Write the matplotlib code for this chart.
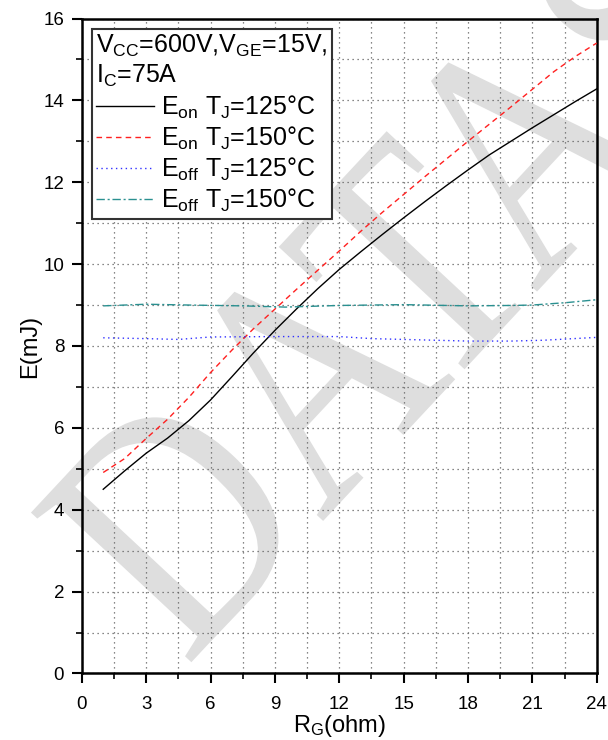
import matplotlib
matplotlib.use("Agg")
import matplotlib.pyplot as plt
from matplotlib.ticker import MultipleLocator
from matplotlib.textpath import TextPath
from matplotlib.patches import PathPatch
from matplotlib.font_manager import FontProperties
from matplotlib.transforms import Affine2D, IdentityTransform

plt.rcParams['font.family'] = ['Liberation Sans', 'DejaVu Sans']
plt.rcParams['mathtext.fontset'] = 'custom'
plt.rcParams['mathtext.rm'] = 'Liberation Sans'
plt.rcParams['mathtext.it'] = 'Liberation Sans'

# ---- data ----
rg = [1, 2, 3, 4, 5, 6, 7, 8, 9, 10, 11, 12, 13, 14, 15, 16, 17, 18, 19, 20, 21, 22, 23, 24]
eon_125 = [4.5, 4.95, 5.38, 5.75, 6.18, 6.68, 7.25, 7.83, 8.38, 8.9, 9.4, 9.87,
           10.3, 10.72, 11.13, 11.53, 11.92, 12.3, 12.67, 13.0, 13.33, 13.65, 13.97, 14.28]
eon_150 = [4.91, 5.25, 5.74, 6.21, 6.75, 7.35, 7.9, 8.42, 8.9, 9.38, 9.85, 10.32,
           10.8, 11.26, 11.7, 12.14, 12.57, 13.0, 13.42, 13.84, 14.27, 14.7, 15.07, 15.4]
rg_off = [1, 3, 4.5, 6, 9, 12, 13.5, 15, 18, 20, 21.5, 24]
eoff_125 = [8.2, 8.18, 8.16, 8.22, 8.23, 8.23, 8.18, 8.16, 8.12, 8.12, 8.14, 8.21]
rg_off2 = [1, 3, 5, 7.5, 9.5, 12, 15, 18, 20, 21, 22.6, 24]
eoff_150 = [8.98, 9.02, 9.0, 8.98, 8.95, 8.99, 9.01, 8.98, 8.99, 9.0, 9.06, 9.13]

labels = [r"$\mathregular{E_{on}\ T_J}$=125°C",
          r"$\mathregular{E_{on}\ T_J}$=150°C",
          r"$\mathregular{E_{off}\ T_J}$=125°C",
          r"$\mathregular{E_{off}\ T_J}$=150°C"]
legend_title = "$\\mathregular{V_{CC}}$=600V,$\\mathregular{V_{GE}}$=15V,\n$\\mathregular{I_C}$=75A"
watermark = "DATASHEET"

fig = plt.figure(figsize=(6.08, 7.4), dpi=100)
ax = fig.add_axes([0.1345, 0.0899, 0.8469, 0.8851])

# watermark (pixel coordinates of the figure)
tp = TextPath((0, 0), watermark, size=335, prop=FontProperties(family='Liberation Serif'))
wm_tr = Affine2D().scale(0.82, 1.0).rotate_deg(47).translate(186, 72) + IdentityTransform()
wm = PathPatch(tp, facecolor='#dedede', edgecolor='none', transform=wm_tr,
               clip_on=False, zorder=0.5)
ax.add_patch(wm)

ax.plot(rg, eon_125, color='black', lw=1.0, ls='-', label=labels[0], zorder=3)
ax.plot(rg, eon_150, color='#ff2020', lw=1.0, ls=(0, (4, 3)), label=labels[1], zorder=3)
ax.plot(rg_off, eoff_125, color='#3030ff', lw=1.0, ls=(0, (1, 2.5)), label=labels[2], zorder=3)
ax.plot(rg_off2, eoff_150, color='#2a9090', lw=1.0, ls=(0, (6, 2, 1.5, 2)), label=labels[3], zorder=3)

ax.set_xlim(0, 24)
ax.set_ylim(0, 16)
ax.xaxis.set_major_locator(MultipleLocator(3))
ax.xaxis.set_minor_locator(MultipleLocator(1.5))
ax.yaxis.set_major_locator(MultipleLocator(2))
ax.yaxis.set_minor_locator(MultipleLocator(1))
ax.grid(True, which='both', color='#606060', ls=(0, (1, 3)), lw=0.9, zorder=1)
ax.tick_params(which='major', direction='out', length=7.2, width=1.5, labelsize=13.5)
ax.tick_params(axis='x', which='major', pad=9)
ax.tick_params(axis='y', which='major', pad=5.5)
ax.tick_params(which='minor', direction='out', length=4.3, width=1.2)
for s in ax.spines.values():
    s.set_linewidth(1.8)

ax.set_xlabel(r"$\mathregular{R_G}$(ohm)", fontsize=17, labelpad=0)
ax.set_ylabel("E(mJ)", fontsize=17, labelpad=1.5)

leg = ax.legend(loc='upper left', title=legend_title, fontsize=18, title_fontsize=18,
                frameon=True, fancybox=False, edgecolor='#333333', framealpha=1,
                handlelength=2.3, handletextpad=0.28, borderpad=0.18, labelspacing=0.16,
                borderaxespad=0.4, alignment='left')
leg.get_frame().set_linewidth(1.5)
leg.set_zorder(5)

fig.savefig("out.png", dpi=100)
